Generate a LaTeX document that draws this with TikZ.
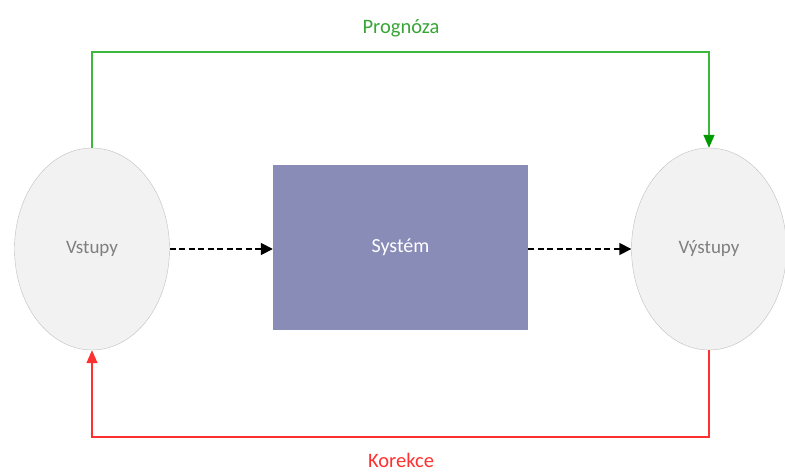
\documentclass[tikz,border=0pt]{standalone}
\usepackage{fontspec}
\setmainfont{Carlito}
\usetikzlibrary{arrows.meta,shapes.geometric}
\definecolor{ellfill}{HTML}{F2F2F2}
\definecolor{elldraw}{HTML}{BFBFBF}
\definecolor{sysfill}{HTML}{8A8CB8}
\definecolor{grn}{HTML}{3CB83C}
\definecolor{grnarrow}{HTML}{009A00}
\definecolor{rd}{HTML}{FF3030}
\definecolor{txtgray}{HTML}{7F7F7F}
\begin{document}
\begin{tikzpicture}[x=1pt,y=-1pt,
  io/.style={ellipse,draw=elldraw,fill=ellfill,minimum width=155pt,minimum height=202pt,inner sep=0pt,text=txtgray,font=\fontsize{19}{22}\selectfont},
  sys/.style={rectangle,fill=sysfill,minimum width=255pt,minimum height=165pt,inner sep=0pt,text=white,font=\fontsize{20}{24}\selectfont},
  flow/.style={dashed,dash pattern=on 6pt off 3.5pt,line width=1.7pt,-{Triangle[length=12pt,width=12pt]}},
  pro/.style={draw=grn,line width=1.3pt,-{Triangle[length=13pt,width=11pt,color=grnarrow]}},
  kor/.style={draw=rd,line width=1.3pt,-{Triangle[length=13pt,width=11pt]}},
  lbl/.style={font=\fontsize{20.5}{24}\selectfont}]
\useasboundingbox (0,0) rectangle (785,472);
\node[io] (in) at (92,249) {Vstupy};
\node[io] (out) at (709,249) {Výstupy};
\node[sys] (s) at (400.5,247.5) {Systém};
\draw[flow] (in.east) -- (s.west |- in.east);
\draw[flow] (s.east |- out.west) -- (out.west);
\coordinate (pa) at (92,52);
\coordinate (pb) at (709,52);
\draw[pro] (in.north) -- (pa) -- (pb) -- (out.north);
\coordinate (ka) at (709,437);
\coordinate (kb) at (92,437);
\draw[kor] (out.south) -- (ka) -- (kb) -- (in.south);
\node[lbl,text=grn!90!black] (tp) at (401,28) {Prognóza};
\node[lbl,text=rd] (tk) at (401,460) {Korekce};
\end{tikzpicture}
\end{document}
